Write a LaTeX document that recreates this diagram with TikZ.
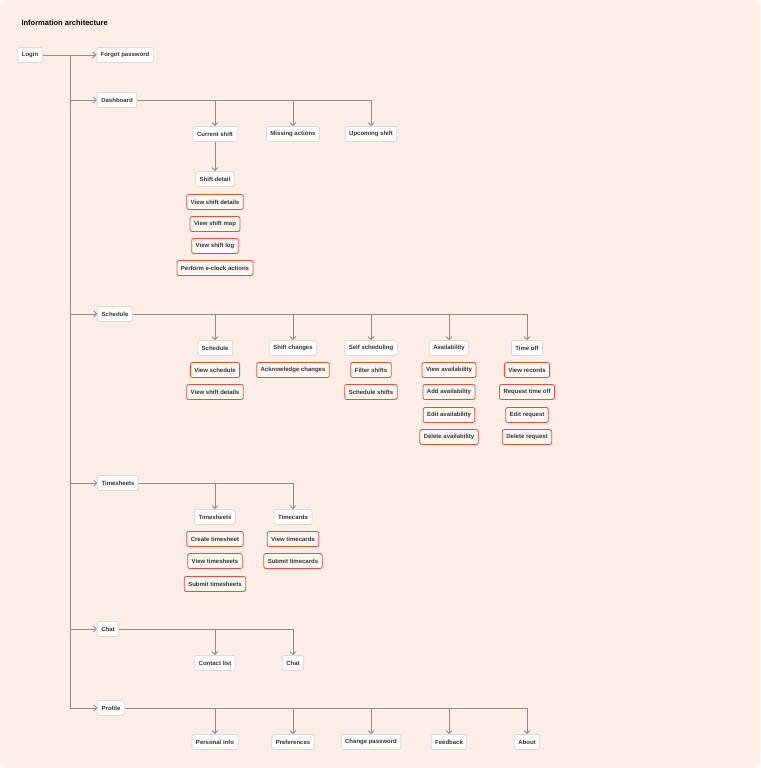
\documentclass[tikz,border=0pt]{standalone}
\usepackage{fontspec}
\setmainfont{Liberation Sans}
\usetikzlibrary{arrows.meta}
\definecolor{bg}{HTML}{FDEEE7}
\definecolor{ln}{HTML}{8C8C8C}
\definecolor{rd}{HTML}{E8503A}
\definecolor{bd}{HTML}{D9D9D9}
\begin{document}
\begin{tikzpicture}[x=1pt,y=-1pt,
  box/.style={draw=bd,fill=white,rounded corners=2pt,line width=0.8pt,inner xsep=4pt,minimum height=15pt,font=\fontsize{6}{7}\selectfont\bfseries,text=black!80},
  rbox/.style={box,draw=rd,fill=bg!40!white},
  conn/.style={draw=ln,line width=0.8pt,-{Straight Barb[length=3pt,width=6pt]}},
  lin/.style={draw=ln,line width=0.8pt}]
\fill[bg,rounded corners=6pt] (0,0) rectangle (760,768);
\useasboundingbox (0,0) rectangle (760,768);
\node[anchor=west,font=\fontsize{7.5}{9}\selectfont\bfseries] (title) at (18,23) {Information architecture};
\node[box] (login) at (30,55) {Login};
\node[box] (forgot) at (125,55) {Forgot password};
\node[box] (dash) at (117,100) {Dashboard};
\node[box] (sched) at (115,314) {Schedule};
\node[box] (times) at (118,483) {Timesheets};
\node[box] (chat) at (108,629) {Chat};
\node[box] (prof) at (111,708) {Profile};
\coordinate (t0) at (70,55);
\coordinate (tend) at (70,708);
\draw[lin] (login.east) -- (t0);
\draw[lin] (t0) -- (tend);
\foreach \n/\y in {forgot/55,dash/100,sched/314,times/483,chat/629,prof/708}
  \draw[conn] (70,\y) -- (\n.west);
% Dashboard
\node[box] (cur) at (215,134) {Current shift};
\node[box] (miss) at (293,134) {Missing actions};
\node[box] (up) at (371,134) {Upcoming shift};
\draw[lin] (dash.east) -- (371,100);
\foreach \n/\x in {cur/215,miss/293,up/371} \draw[conn] (\x,100) -- (\n.north);
\node[box] (sd) at (215,179) {Shift detail};
\draw[conn] (cur.south) -- (sd.north);
\node[rbox] (r1) at (215,202) {View shift details};
\node[rbox] (r2) at (215,224) {View shift map};
\node[rbox] (r3) at (215,246) {View shift log};
\node[rbox] (r4) at (215,268) {Perform e-clock actions};
% Schedule
\node[box] (s1) at (215,348) {Schedule};
\node[box] (s2) at (293,348) {Shift changes};
\node[box] (s3) at (371,348) {Self scheduling};
\node[box] (s4) at (449,348) {Availability};
\node[box] (s5) at (527,348) {Time off};
\draw[lin] (sched.east) -- (527,314);
\foreach \n/\x in {s1/215,s2/293,s3/371,s4/449,s5/527} \draw[conn] (\x,314) -- (\n.north);
\node[rbox] at (215,370) {View schedule};
\node[rbox] at (215,392) {View shift details};
\node[rbox] at (293,370) {Acknowledge changes};
\node[rbox] at (371,370) {Filter shifts};
\node[rbox] at (371,392) {Schedule shifts};
\node[rbox] at (449,370) {View availability};
\node[rbox] at (449,392) {Add availability};
\node[rbox] at (449,415) {Edit availability};
\node[rbox] at (449,437) {Delete availability};
\node[rbox] at (527,370) {View records};
\node[rbox] at (527,392) {Request time off};
\node[rbox] at (527,415) {Edit request};
\node[rbox] at (527,437) {Delete request};
% Timesheets
\node[box] (ts1) at (215,517) {Timesheets};
\node[box] (ts2) at (293,517) {Timecards};
\draw[lin] (times.east) -- (293,483);
\foreach \n/\x in {ts1/215,ts2/293} \draw[conn] (\x,483) -- (\n.north);
\node[rbox] at (215,539) {Create timesheet};
\node[rbox] at (215,561) {View timesheets};
\node[rbox] at (215,584) {Submit timesheets};
\node[rbox] at (293,539) {View timecards};
\node[rbox] at (293,561) {Submit timecards};
% Chat
\node[box] (c1) at (215,663) {Contact list};
\node[box] (c2) at (293,663) {Chat};
\draw[lin] (chat.east) -- (293,629);
\foreach \n/\x in {c1/215,c2/293} \draw[conn] (\x,629) -- (\n.north);
% Profile
\node[box] (p1) at (215,742) {Personal info};
\node[box] (p2) at (293,742) {Preferences};
\node[box] (p3) at (371,742) {Change password};
\node[box] (p4) at (449,742) {Feedback};
\node[box] (p5) at (527,742) {About};
\draw[lin] (prof.east) -- (527,708);
\foreach \n/\x in {p1/215,p2/293,p3/371,p4/449,p5/527} \draw[conn] (\x,708) -- (\n.north);
\end{tikzpicture}
\end{document}
